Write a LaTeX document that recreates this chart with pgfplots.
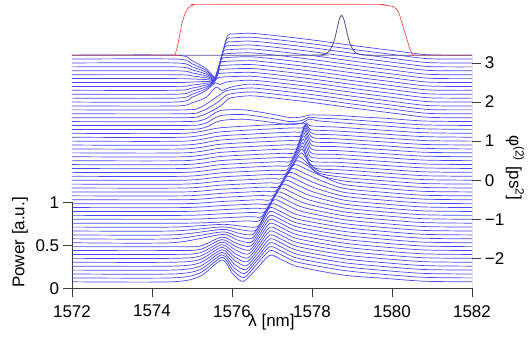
\documentclass[border=0pt]{standalone}
\usepackage{fontspec}
\setmainfont{Liberation Sans}
\usepackage{pgfplots}
\pgfplotsset{compat=1.18}
\definecolor{tr}{RGB}{70,70,255}
\definecolor{inp}{RGB}{80,80,135}
\definecolor{ax}{RGB}{60,60,60}
\definecolor{flt}{RGB}{245,70,70}
\begin{document}
\fontsize{17pt}{20pt}\selectfont
\begin{tikzpicture}
\useasboundingbox (-72pt,-56.7pt) rectangle (456pt,288.3pt);
\pgfplotsset{trace/.style={color=tr, line width=0.7pt, smooth, tension=0.45, mark=none}}
\begin{axis}[name=main, scale only axis, width=400pt, height=286.3pt,
  xmin=1572, xmax=1582, ymin=-1.66, ymax=71.6,
  axis x line*=bottom, axis y line*=right,
  x axis line style={-, ax, line width=0.8pt}, y axis line style={draw=none},
  tick align=outside, major tick length=9pt, tick style={ax, line width=0.8pt},
  xtick={1572,1574,...,1582}, ytick={6,16,26,36,46,56}, yticklabels={−2,−1,0,1,2,3},
  /pgf/number format/1000 sep={}, /pgf/number format/assume math mode=true,
  tick label style={font=\fontsize{17pt}{20pt}\selectfont},
  yticklabel style={xshift=-2pt}, xticklabel style={yshift=-2pt}]
% region A
\addplot[trace] coordinates {(1572,0)(1574.5,0)(1575.2,1.4)(1575.75,5.6)(1576.02,2.0)(1576.28,0.1)(1576.62,3.4)(1576.95,6.8)(1577.25,5.6)(1577.65,3.9)(1578.8,1.7)(1579.8,0.9)(1580.8,0.15)(1582,0)};
\addplot[trace] coordinates {(1572,1)(1574.5,1)(1575.2,2.26)(1575.75,6.25)(1576.03,2.84)(1576.30,1.1)(1576.62,4.5)(1576.95,8)(1577.25,6.8)(1577.65,5.0)(1578.8,2.9)(1579.8,1.9)(1580.8,1.15)(1582,1)};
\addplot[trace] coordinates {(1572,2)(1574.5,2)(1575.2,3.12)(1575.75,6.9)(1576.04,3.7)(1576.32,2.1)(1576.63,5.5)(1576.95,9)(1577.25,7.8)(1577.65,6.0)(1578.8,3.9)(1579.8,2.9)(1580.8,2.15)(1582,2)};
\addplot[trace] coordinates {(1572,3)(1574.5,3)(1575.2,3.98)(1575.75,7.55)(1576.05,4.6)(1576.34,3.1)(1576.65,6.5)(1576.95,10)(1577.25,8.8)(1577.65,7.0)(1578.8,4.9)(1579.8,3.9)(1580.8,3.15)(1582,3)};
\addplot[trace] coordinates {(1572,4)(1574.5,4)(1575.2,4.84)(1575.75,8.2)(1576.06,5.5)(1576.36,4.1)(1576.66,7.5)(1576.95,11)(1577.25,9.8)(1577.65,8.0)(1578.8,5.9)(1579.8,4.9)(1580.8,4.15)(1582,4)};
\addplot[trace] coordinates {(1572,5)(1574.5,5)(1575.2,5.7)(1575.75,8.85)(1576.07,6.35)(1576.38,5.1)(1576.67,8.5)(1576.95,12)(1577.25,10.8)(1577.65,9.0)(1578.8,6.9)(1579.8,5.9)(1580.8,5.15)(1582,5)};
\addplot[trace] coordinates {(1572,6)(1574.5,6)(1575.2,6.56)(1575.75,9.5)(1576.08,7.2)(1576.40,6.1)(1576.68,9.5)(1576.95,13)(1577.25,11.8)(1577.65,10.0)(1578.8,7.9)(1579.8,6.9)(1580.8,6.15)(1582,6)};
\addplot[trace] coordinates {(1572,7)(1574.5,7)(1575.2,7.42)(1575.75,10.15)(1576.09,8.1)(1576.42,7.1)(1576.69,10.5)(1576.95,14)(1577.25,12.8)(1577.65,11.0)(1578.8,8.9)(1579.8,7.9)(1580.8,7.15)(1582,7)};
\addplot[trace] coordinates {(1572,8)(1574.5,8)(1575.2,8.28)(1575.75,10.8)(1576.10,9.0)(1576.44,8.1)(1576.70,11.5)(1576.95,15)(1577.25,13.8)(1577.65,12.0)(1578.8,9.9)(1579.8,8.9)(1580.8,8.15)(1582,8)};
\addplot[trace] coordinates {(1572,9)(1574.5,9)(1575.2,9.14)(1575.75,11.45)(1576.11,9.85)(1576.46,9.1)(1576.71,12.5)(1576.95,16)(1577.25,14.8)(1577.65,13.0)(1578.8,10.9)(1579.8,9.9)(1580.8,9.15)(1582,9)};
\addplot[trace] coordinates {(1572,10)(1574.5,10)(1575.75,12.1)(1576.12,10.75)(1576.48,10.1)(1576.72,13.5)(1576.95,17)(1577.25,15.8)(1577.65,14.0)(1578.8,11.9)(1579.8,10.9)(1580.8,10.15)(1582,10)};
\addplot[trace] coordinates {(1572,11)(1574.5,11)(1575.75,12.75)(1576.13,11.6)(1576.50,11.1)(1576.73,14.5)(1576.95,18)(1577.25,16.8)(1577.65,15.0)(1578.8,12.9)(1579.8,11.9)(1580.8,11.15)(1582,11)};
\addplot[trace] coordinates {(1572,12)(1574.5,12)(1575.75,13.4)(1576.14,12.5)(1576.52,12.1)(1576.74,15.5)(1576.95,19)(1577.25,17.8)(1577.65,16.0)(1578.8,13.9)(1579.8,12.9)(1580.8,12.15)(1582,12)};
\addplot[trace] coordinates {(1572,13)(1574.5,13)(1575.75,14.05)(1576.17,13.4)(1576.58,13.1)(1576.79,16.5)(1576.99,20)(1577.29,18.8)(1577.69,17.0)(1578.8,14.9)(1579.8,13.9)(1580.8,13.15)(1582,13)};
\addplot[trace] coordinates {(1572,14)(1574.5,14)(1575.75,14.7)(1576.20,14.3)(1576.64,14.1)(1576.85,17.5)(1577.05,21)(1577.35,19.8)(1577.75,18.0)(1578.8,15.9)(1579.8,14.9)(1580.8,14.15)(1582,14)};
\addplot[trace] coordinates {(1572,15)(1574.8,15)(1575.75,15.3)(1576.38,15.6)(1576.68,15.6)(1576.89,18.8)(1577.09,22)(1577.39,20.8)(1577.79,19.0)(1578.8,16.9)(1579.8,15.9)(1580.8,15.15)(1582,15)};
\addplot[trace] coordinates {(1572,16)(1574.8,16)(1575.75,16.35)(1576.44,16.68)(1576.74,16.68)(1576.95,19.84)(1577.15,23)(1577.45,21.8)(1577.85,20.0)(1578.8,17.9)(1579.8,16.9)(1580.8,16.15)(1582,16)};
\addplot[trace] coordinates {(1572,17)(1574.8,17)(1575.75,17.4)(1576.50,17.76)(1576.80,17.76)(1577.01,20.9)(1577.21,24)(1577.51,22.8)(1577.91,21.0)(1578.8,18.9)(1579.8,17.9)(1580.8,17.15)(1582,17)};
\addplot[trace] coordinates {(1572,18)(1574.8,18)(1575.75,18.45)(1576.56,18.84)(1576.86,18.84)(1577.07,21.9)(1577.27,25)(1577.57,23.8)(1577.97,22.0)(1578.8,19.9)(1579.8,18.9)(1580.8,18.15)(1582,18)};
\addplot[trace] coordinates {(1572,19)(1574.8,19)(1575.75,19.5)(1576.62,19.92)(1576.92,19.92)(1577.13,22.96)(1577.33,26)(1577.63,24.8)(1578.03,23.0)(1578.8,20.9)(1579.8,19.9)(1580.8,19.15)(1582,19)};
\addplot[trace] coordinates {(1572,20)(1574.8,20)(1575.75,20.55)(1576.67,21.0)(1576.97,21.0)(1577.18,24.0)(1577.38,27)(1577.68,25.8)(1578.08,24.0)(1578.8,21.9)(1579.8,20.9)(1580.8,20.15)(1582,20)};
\addplot[trace] coordinates {(1572,21)(1574.8,21)(1575.75,21.6)(1576.73,22.08)(1577.03,22.08)(1577.24,25.04)(1577.44,28)(1577.74,26.8)(1578.14,25.0)(1578.8,22.9)(1579.8,21.9)(1580.8,21.15)(1582,21)};
\addplot[trace] coordinates {(1572,22)(1574.8,22)(1575.75,22.65)(1576.79,23.16)(1577.09,23.16)(1577.30,26.08)(1577.50,29)(1577.80,27.8)(1578.20,26.0)(1578.8,23.9)(1579.8,22.9)(1580.8,22.15)(1582,22)};
\addplot[trace] coordinates {(1572,23)(1574.8,23)(1575.75,23.7)(1576.85,24.24)(1577.15,24.24)(1577.36,27.12)(1577.56,30)(1577.86,28.8)(1578.26,27.0)(1578.8,24.9)(1579.8,23.9)(1580.8,23.15)(1582,23)};
\addplot[trace] coordinates {(1572,24)(1574.8,24)(1575.75,24.75)(1576.91,25.32)(1577.21,25.32)(1577.42,28.16)(1577.62,31)(1577.92,29.5)(1578.22,27.2)(1578.8,25.8)(1579.8,24.9)(1580.8,24.15)(1582,24)};
\addplot[trace] coordinates {(1572,25)(1574.8,25)(1575.75,25.8)(1576.96,26.4)(1577.26,26.4)(1577.47,29.2)(1577.67,32)(1577.92,30.0)(1578.17,27.8)(1578.8,26.7)(1579.8,25.85)(1580.8,25.15)(1582,25)};
\addplot[trace] coordinates {(1572,26)(1574.8,26)(1575.75,26.85)(1577.02,27.48)(1577.32,27.48)(1577.53,30.24)(1577.73,33)(1577.93,30.5)(1578.18,28.3)(1578.8,27.6)(1579.8,26.85)(1580.8,26.15)(1582,26)};
\addplot[trace] coordinates {(1572,27)(1574.8,27)(1575.75,27.9)(1577.06,28.56)(1577.36,28.56)(1577.555,31.3)(1577.75,34)(1577.9,31.0)(1578.1,29.0)(1578.8,28.6)(1579.8,27.85)(1580.8,27.15)(1582,27)};
\addplot[trace] coordinates {(1572,28)(1574.8,28)(1575.75,28.95)(1577.10,29.64)(1577.40,29.64)(1577.58,32.2)(1577.76,34.8)(1577.86,32.1)(1577.98,29.8)(1578.6,29.6)(1579.2,29.2)(1579.8,28.8)(1580.8,28.15)(1582,28)};
\addplot[trace] coordinates {(1572,29)(1574.8,29)(1575.75,30.0)(1577.15,30.72)(1577.45,30.72)(1577.61,33.2)(1577.77,35.6)(1577.87,32.96)(1577.99,30.8)(1578.6,30.6)(1579.2,30.2)(1579.8,29.8)(1580.8,29.15)(1582,29)};
\addplot[trace] coordinates {(1572,30)(1574.8,30)(1575.75,31.05)(1577.20,31.8)(1577.50,31.8)(1577.64,34.15)(1577.78,36.5)(1577.88,33.9)(1578.0,31.8)(1578.6,31.6)(1579.2,31.2)(1579.8,30.8)(1580.8,30.15)(1582,30)};
\addplot[trace] coordinates {(1572,31)(1574.8,31)(1575.75,32.1)(1577.25,32.88)(1577.55,32.88)(1577.67,35.1)(1577.79,37.4)(1577.89,34.84)(1578.01,32.8)(1578.6,32.6)(1579.2,32.2)(1579.8,31.8)(1580.8,31.15)(1582,31)};
\addplot[trace] coordinates {(1572,32)(1574.8,32)(1575.75,33.15)(1577.29,33.96)(1577.59,33.96)(1577.70,36.1)(1577.80,38.2)(1577.90,35.7)(1578.02,33.8)(1578.6,33.6)(1579.2,33.2)(1579.8,32.8)(1580.8,32.15)(1582,32)};
\addplot[trace] coordinates {(1572,33)(1574.8,33)(1575.75,34.2)(1577.33,35.04)(1577.63,35.04)(1577.72,37.0)(1577.81,38.9)(1577.91,36.5)(1578.03,34.8)(1578.6,34.6)(1579.2,34.2)(1579.8,33.8)(1580.8,33.15)(1582,33)};
\addplot[trace] coordinates {(1572,34)(1574.8,34)(1575.75,35.25)(1577.37,36.12)(1577.67,36.12)(1577.745,37.8)(1577.82,39.4)(1577.92,37.2)(1578.04,35.8)(1578.6,35.6)(1579.2,35.2)(1579.8,34.8)(1580.8,34.15)(1582,34)};
\addplot[trace] coordinates {(1572,35)(1574.8,35)(1575.75,36.3)(1577.40,37.2)(1577.70,37.2)(1577.765,38.5)(1577.83,39.8)(1577.93,37.9)(1578.05,36.8)(1578.6,36.6)(1579.2,36.2)(1579.8,35.8)(1580.8,35.15)(1582,35)};
\addplot[trace] coordinates {(1572,36)(1574.8,36)(1575.75,37.35)(1577.43,38.28)(1577.73,38.28)(1577.785,39.2)(1577.84,40.1)(1577.94,38.5)(1578.06,37.8)(1578.6,37.6)(1579.2,37.2)(1579.8,36.8)(1580.8,36.15)(1582,36)};
\addplot[trace] coordinates {(1572,37)(1574.8,37)(1575.75,38.4)(1577.46,39.36)(1577.76,39.36)(1577.85,40.4)(1577.95,39.0)(1578.07,38.8)(1578.6,38.6)(1579.2,38.2)(1579.8,37.8)(1580.8,37.15)(1582,37)};
\addplot[trace] coordinates {(1572,38)(1574.8,38)(1575.75,39.45)(1577.49,40.44)(1577.79,40.44)(1577.86,40.7)(1577.98,39.9)(1578.6,39.6)(1579.2,39.2)(1579.8,38.8)(1580.8,38.15)(1582,38)};
% transition
\addplot[trace] coordinates {(1572,39)(1574.8,39)(1575.3,39.4)(1575.7,41.2)(1576.3,41.6)(1577.0,40.8)(1577.45,40.2)(1577.75,40.6)(1577.92,41.6)(1578.15,41.2)(1578.6,40.8)(1579.2,40.3)(1579.9,39.8)(1580.8,39.15)(1582,39)};
\addplot[trace] coordinates {(1572,40)(1574.8,40)(1575.3,40.45)(1575.7,42.5)(1576.3,42.8)(1577.0,41.8)(1577.45,41.0)(1577.75,41.3)(1577.93,42.1)(1578.15,41.9)(1578.6,41.7)(1579.2,41.3)(1579.9,40.8)(1580.8,40.15)(1582,40)};
\addplot[trace] coordinates {(1572,41)(1574.8,41)(1575.3,41.5)(1575.7,43.8)(1576.3,44.0)(1577.0,42.9)(1577.45,42.0)(1577.75,42.2)(1577.94,42.7)(1578.15,42.7)(1578.6,42.6)(1579.2,42.2)(1579.9,41.8)(1580.8,41.15)(1582,41)};
% region B
\addplot[trace] coordinates {(1572,42)(1574.8,42)(1575.2,42.4)(1575.55,44.0)(1575.75,45.3)(1575.95,47.0)(1576.45,47.6)(1577.0,47.1)(1578.0,45.9)(1579.0,44.5)(1580.0,43.2)(1580.9,42.1)(1582,42)};
\addplot[trace] coordinates {(1572,43)(1574.8,43)(1575.2,43.5)(1575.55,45.3)(1575.72,46.6)(1575.92,48.0)(1576.45,48.6)(1577.0,48.1)(1578.0,46.9)(1579.0,45.5)(1580.0,44.2)(1580.9,43.1)(1582,43)};
\addplot[trace] coordinates {(1572,44)(1574.8,44)(1575.2,44.6)(1575.55,46.8)(1575.7,47.9)(1575.9,49.0)(1576.45,49.6)(1577.0,49.1)(1578.0,47.9)(1579.0,46.5)(1580.0,45.2)(1580.9,44.1)(1582,44)};
\addplot[trace] coordinates {(1572,45)(1574.6,45)(1575.0,45.8)(1575.35,47.2)(1575.6,49.8)(1575.75,49.0)(1576.0,49.9)(1576.45,50.6)(1577.0,50.1)(1578.0,48.9)(1579.0,47.5)(1580.0,46.2)(1580.9,45.1)(1582,45)};
\addplot[trace] coordinates {(1572,46)(1574.6,46)(1575.0,47.22)(1575.35,48.93)(1575.58,50.9)(1575.7,50.5)(1575.9,51.2)(1576.45,51.6)(1577.0,51.1)(1578.0,49.9)(1579.0,48.5)(1580.0,47.2)(1580.9,46.1)(1582,46)};
\addplot[trace] coordinates {(1572,47)(1574.6,47)(1575.0,48.0)(1575.35,49.4)(1575.55,51.0)(1575.62,52.0)(1575.77,52.4)(1576.45,52.6)(1577.0,52.1)(1578.0,50.9)(1579.0,49.5)(1580.0,48.2)(1580.9,47.1)(1582,47)};
\addplot[trace] coordinates {(1572,48)(1574.6,48)(1575.0,48.78)(1575.35,49.87)(1575.55,51.12)(1575.62,53.0)(1575.77,53.4)(1576.45,53.6)(1577.0,53.1)(1578.0,51.9)(1579.0,50.5)(1580.0,49.2)(1580.9,48.1)(1582,48)};
\addplot[trace] coordinates {(1572,49)(1574.6,49)(1575.0,49.56)(1575.35,50.34)(1575.55,51.24)(1575.645,54.0)(1575.8,54.4)(1576.45,54.6)(1577.0,54.1)(1578.0,52.9)(1579.0,51.5)(1580.0,50.2)(1580.9,49.1)(1582,49)};
\addplot[trace] coordinates {(1572,50)(1574.6,50)(1575.0,50.34)(1575.35,50.82)(1575.55,51.36)(1575.67,55.0)(1575.82,55.4)(1576.45,55.6)(1577.0,55.1)(1578.0,53.9)(1579.0,52.5)(1580.0,51.2)(1580.9,50.1)(1582,50)};
\addplot[trace] coordinates {(1572,51)(1574.6,51)(1575.0,51.12)(1575.35,51.29)(1575.55,51.48)(1575.70,56.0)(1575.85,56.4)(1576.45,56.6)(1577.0,56.1)(1578.0,54.9)(1579.0,53.5)(1580.0,52.2)(1580.9,51.1)(1582,51)};
\addplot[trace] coordinates {(1572,52)(1574.6,52)(1575.0,51.9)(1575.35,51.76)(1575.58,51.6)(1575.655,54.35)(1575.73,57.0)(1575.88,57.4)(1576.45,57.6)(1577.0,57.1)(1578.0,55.9)(1579.0,54.5)(1580.0,53.2)(1580.9,52.1)(1582,52)};
\addplot[trace] coordinates {(1572,53)(1574.6,53)(1575.0,52.68)(1575.35,52.23)(1575.583,51.72)(1575.665,54.72)(1575.75,58.0)(1575.9,58.4)(1576.45,58.6)(1577.0,58.1)(1578.0,56.9)(1579.0,55.5)(1580.0,54.2)(1580.9,53.1)(1582,53)};
\addplot[trace] coordinates {(1572,54)(1574.6,54)(1575.0,53.46)(1575.35,52.7)(1575.586,51.84)(1575.68,55.27)(1575.78,59.0)(1575.93,59.4)(1576.45,59.6)(1577.0,59.1)(1578.0,57.9)(1579.0,56.5)(1580.0,55.2)(1580.9,54.1)(1582,54)};
\addplot[trace] coordinates {(1572,55)(1574.6,55)(1575.0,54.24)(1575.35,53.18)(1575.589,51.96)(1575.695,55.8)(1575.81,60.0)(1575.96,60.4)(1576.45,60.6)(1577.0,60.1)(1578.0,58.9)(1579.0,57.5)(1580.0,56.2)(1580.9,55.1)(1582,55)};
\addplot[trace] coordinates {(1572,56)(1574.6,56)(1575.0,55.02)(1575.35,53.65)(1575.593,52.08)(1575.71,56.37)(1575.84,61.0)(1575.99,61.4)(1576.45,61.6)(1577.0,61.1)(1578.0,59.9)(1579.0,58.5)(1580.0,57.2)(1580.9,56.1)(1582,56)};
\addplot[trace] coordinates {(1572,57)(1574.6,57)(1575.0,55.8)(1575.35,54.12)(1575.596,52.2)(1575.72,56.74)(1575.86,62.0)(1576.01,62.4)(1576.45,62.6)(1577.0,62.1)(1578.0,60.9)(1579.0,59.5)(1580.0,58.2)(1580.9,57.1)(1582,57)};
\addplot[trace] coordinates {(1572,58)(1574.6,58)(1575.0,56.58)(1575.35,54.59)(1575.6,52.32)(1575.735,57.3)(1575.89,63.0)(1576.04,63.4)(1576.45,63.6)(1577.0,63.1)(1578.0,61.9)(1579.0,60.5)(1580.0,59.2)(1580.9,58.1)(1582,58)};
% input spectrum
\addplot[color=inp, line width=0.8pt, smooth, tension=0.4, mark=none] coordinates {(1572,58)(1578.0,58)(1578.24,58.11)(1578.34,58.36)(1578.44,59.13)(1578.54,61.23)(1578.59,63.1)(1578.64,65.35)(1578.69,67.37)(1578.74,68.2)(1578.79,67.37)(1578.84,65.35)(1578.89,63.1)(1578.94,61.23)(1579.04,59.13)(1579.14,58.36)(1579.24,58.11)(1579.5,58)(1582,58)};
% filter
\addplot[color=flt, line width=0.65pt, smooth, tension=0.4, mark=none] coordinates {(1572,58)(1574.5,58)(1574.575,58.05)(1574.66,61.4)(1574.74,65.7)(1574.825,68.6)(1574.91,70.1)(1575.03,70.8)(1575.28,71.0)(1579.5,71.0)(1579.78,70.8)(1580.03,70.4)(1580.16,69.1)(1580.24,66.5)(1580.37,62.2)(1580.45,59.5)(1580.53,58.05)(1580.6,58)(1582,58)};
\draw[ax, line width=0.8pt] (axis cs:1582,-1.66) -- (axis cs:1582,58);
\end{axis}
\begin{axis}[scale only axis, width=400pt, height=286.3pt,
  xmin=1572, xmax=1582, ymin=0, ymax=3.3315,
  axis x line=none, axis y line*=left, y axis line style={draw=none},
  tick align=outside, major tick length=9pt, tick style={ax, line width=0.8pt},
  ytick={0,0.5,1}, /pgf/number format/assume math mode=true,
  tick label style={font=\fontsize{17pt}{20pt}\selectfont},
  yticklabel style={xshift=2pt}]
\draw[ax, line width=0.8pt] (axis cs:1572,0) -- (axis cs:1572,1);
\end{axis}
\path (main.south west) ++(-52pt,45.8pt) node[rotate=90]{Power [a.u.]};
\path (main.south west) ++(199.5pt,-33.7pt) node{λ [nm]};
\path (main.south east) ++(43pt,120.3pt) node[rotate=-90]{φ\textsuperscript{(2)} [ps\textsuperscript{2}]};
\end{tikzpicture}
\end{document}
